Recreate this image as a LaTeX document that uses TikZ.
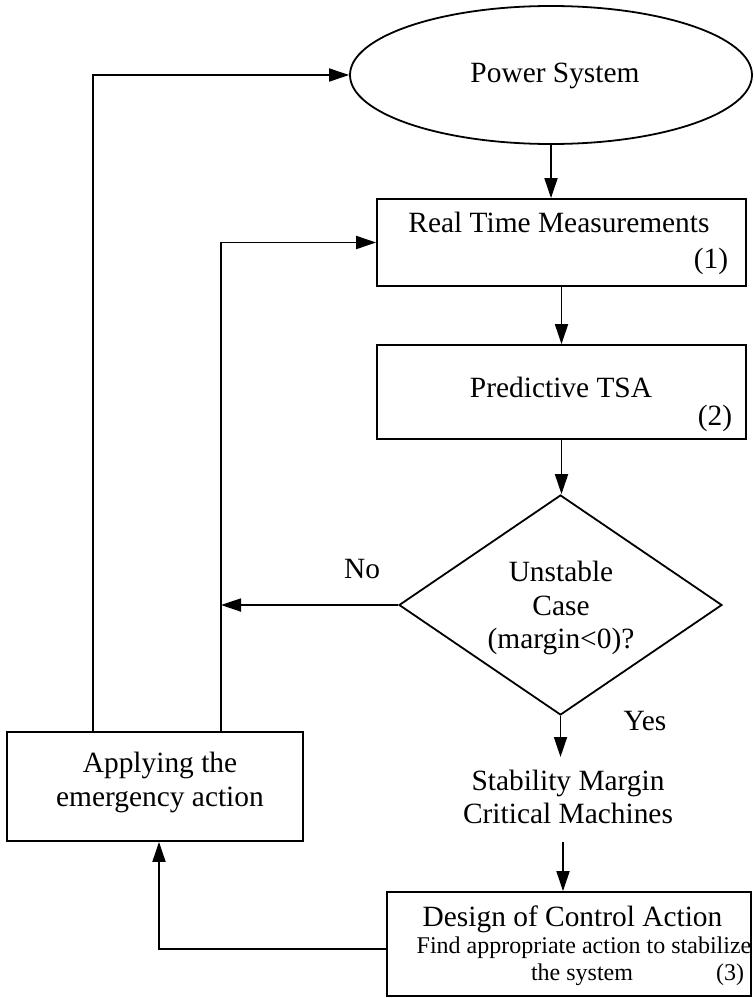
\documentclass[tikz,border=0pt]{standalone}
\usepackage{fontspec}
\setmainfont{Liberation Serif}
\usetikzlibrary{shapes.geometric,arrows.meta}
\begin{document}
\begin{tikzpicture}[x=1pt,y=-1pt,
  line width=1.8pt,
  arr/.style={-{Triangle[length=20pt,width=13pt]}},
  box/.style={draw,rectangle,inner sep=0pt},
  big/.style={font=\fontsize{29.4}{34}\selectfont, inner sep=0pt},
  small/.style={font=\fontsize{24}{28}\selectfont, inner sep=0pt}]
\useasboundingbox (0,0) rectangle (753,998);
% shapes
\node[draw,ellipse,minimum width=402pt,minimum height=138pt,inner sep=0pt] (ps) at (551,75) {};
\node[box,minimum width=369pt,minimum height=87pt] (rt) at (561.5,242.5) {};
\node[box,minimum width=369pt,minimum height=94pt] (pt) at (561.5,392) {};
\node[draw,diamond,minimum width=323pt,minimum height=220pt,inner sep=0pt] (dm) at (560.5,605) {};
\node[box,minimum width=296pt,minimum height=109pt] (ap) at (155,786.5) {};
\node[box,minimum width=364pt,minimum height=104pt] (dc) at (569,944) {};
% texts
\node[big,anchor=base] (pst) at (555,82) {Power System};
\node[big,anchor=base] (rtt) at (559,232) {Real Time Measurements};
\node[big,anchor=base east] (rtn) at (729,268) {(1)};
\node[big,anchor=base] (ptt) at (561,397) {Predictive TSA};
\node[big,anchor=base east] (ptn) at (733,425) {(2)};
\node[big,anchor=base] (dm1) at (561,581) {Unstable};
\node[big,anchor=base] (dm2) at (561,615) {Case};
\node[big,anchor=base] (dm3) at (561,648) {(margin<0)?};
\node[big,anchor=base] (no) at (362,578) {No};
\node[big,anchor=base] (yes) at (645,730) {Yes};
\node[big,anchor=base] (sm1) at (568,790) {Stability Margin};
\node[big,anchor=base] (sm2) at (568,823) {Critical Machines};
\node[big,anchor=base] (ap1) at (160,772) {Applying the};
\node[big,anchor=base] (ap2) at (160,806) {emergency action};
\node[big,anchor=base] (dc1) at (572.5,926) {Design of Control Action};
\node[small,anchor=base] (dc2) at (584,953) {Find appropriate action to stabilize};
\node[small,anchor=base] (dc3) at (582,980) {the system};
\node[small,anchor=base east] (dcn) at (745,980) {(3)};
% coordinates
\coordinate (l1) at (93,732);
\coordinate (l2) at (221,732);
\coordinate (ya) at (560.5,757);
\coordinate (sb) at (563,842);
\coordinate (fb) at (159,949);
% connectors
\draw[arr] (ps.south) -- (ps.south |- rt.north);
\draw[arr] (rt.south) -- (pt.north);
\draw[arr] (pt.south) -- (pt.south |- dm.north);
\draw[arr] (dm.west) -- (dm.west -| l2);
\draw[arr] (dm.south) -- (ya);
\draw[arr] (sb) -- (sb |- dc.north);
\draw[arr] (dc.west |- fb) -| (fb |- ap.south);
\draw[arr] (l1) |- (ps.west);
\draw[arr] (l2) |- (rt.west);
\end{tikzpicture}
\end{document}
